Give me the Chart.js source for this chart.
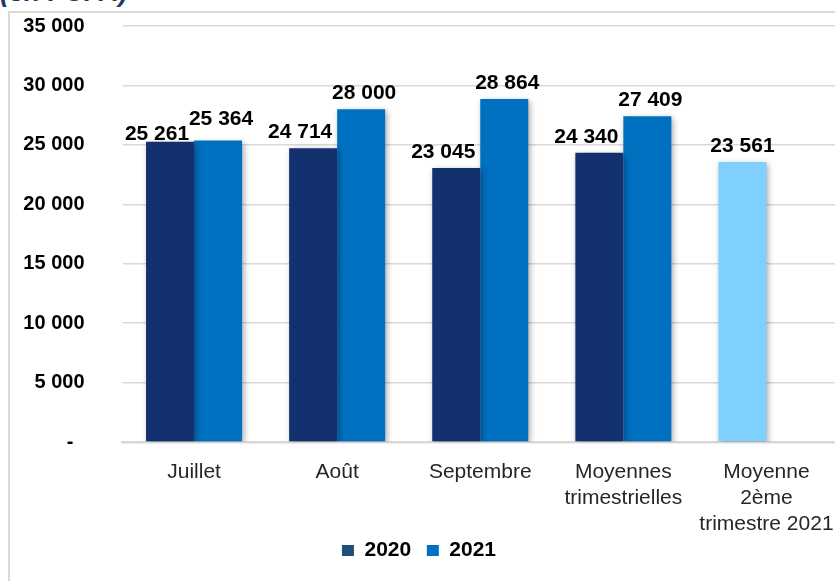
<!DOCTYPE html>
<html>
<head>
<meta charset="utf-8">
<script src="https://cdn.jsdelivr.net/npm/chart.js@4.4.1/dist/chart.umd.min.js"></script>
<style>
  html, body { margin: 0; padding: 0; background: #fff; overflow: hidden; width: 835px; height: 581px; }
  #frame { position: absolute; left: 8px; top: 11px; width: 900px; height: 700px; border: 2px solid #d9d9d9; box-sizing: border-box; }
  #title { position: absolute; left: 0; top: -21px; font: italic bold 27px "Liberation Sans", Arial, sans-serif; color: #1f3864; line-height: 27px; white-space: nowrap; }
  #chart { position: absolute; left: 0; top: 0; }
</style>
</head>
<body>
<div id="frame"></div>
<div id="title">(en FCFA)</div>
<canvas id="chart" width="845" height="581"></canvas>
<script>
// categories and values
const categories = ["Juillet", "Août", "Septembre", ["Moyennes", "trimestrielles"], ["Moyenne", "2ème", "trimestre 2021"]];
const values2020 = [25261, 24714, 23045, 24340, 23561];
const values2021 = [25364, 28000, 28864, 27409, null];
const yTicks = [0, 5000, 10000, 15000, 20000, 25000, 30000, 35000];

const dark = "#12316e";
const blue = "#0070c0";
const light = "#80d0ff";

function fmt(v) {
    return String(v).replace(/\B(?=(\d{3})+(?!\d))/g, " ");
}

// soft shadow under the bars
const shadowPlugin = {
    id: "barShadow",
    beforeDatasetsDraw(chart) {
        let ctx = chart.ctx;
        ctx.save();
        ctx.shadowColor = "rgba(0,0,0,0.35)";
        ctx.shadowBlur = 6;
        ctx.shadowOffsetX = 2;
        ctx.shadowOffsetY = 2;
    },
    afterDatasetsDraw(chart) {
        chart.ctx.restore();
    }
};

// value labels above the bars (2021 label goes up when the two would touch)
const labelPlugin = {
    id: "valueLabels",
    afterDatasetsDraw(chart) {
        let ctx = chart.ctx;
        let m0 = chart.getDatasetMeta(0);
        let m1 = chart.getDatasetMeta(1);
        ctx.save();
        ctx.font = "bold 21px 'Liberation Sans', Arial, sans-serif";
        ctx.fillStyle = "#000";
        ctx.textAlign = "center";
        ctx.textBaseline = "alphabetic";
        m0.data.forEach((bar0, i) => {
            let v0 = values2020[i], v1 = values2021[i];
            let bar1 = m1.data[i];
            let pair = v1 !== null && v1 !== undefined;
            let x0 = pair ? bar0.x - 13 : bar0.x;
            let y0 = bar0.y - 10;
            if (pair) {
                let x1 = bar1.x + 3;
                let y1 = bar1.y - 10;
                let w0 = ctx.measureText(fmt(v0)).width;
                let w1 = ctx.measureText(fmt(v1)).width;
                if (x0 + w0 / 2 + 6 > x1 - w1 / 2 && Math.abs(y0 - y1) < 16) {
                    y0 = Math.max(y0, y1) + 8;
                    y1 = y0 - 15;
                }
                ctx.fillText(fmt(v1), x1, y1);
            }
            ctx.fillText(fmt(v0), x0, y0);
        });
        ctx.restore();
    }
};

new Chart(document.getElementById("chart"), {
    type: "bar",
    data: {
        labels: categories,
        datasets: [
            {
                label: "2020",
                data: values2020,
                backgroundColor: values2020.map((v, i) => i === values2020.length - 1 ? light : dark),
                borderWidth: 0
            },
            {
                label: "2021",
                data: values2021,
                backgroundColor: blue,
                borderWidth: 0
            }
        ]
    },
    options: {
        responsive: false,
        animation: false,
        devicePixelRatio: 1,
        layout: { padding: { top: 26, left: 0, right: 7, bottom: 10 } },
        datasets: {
            bar: { categoryPercentage: 0.671, barPercentage: 1 }
        },
        plugins: {
            title: { display: false },
            tooltip: { enabled: false },
            legend: {
                display: true,
                position: "bottom",
                labels: {
                    boxWidth: 12,
                    boxHeight: 11,
                    padding: 4,
                    color: "#000",
                    font: { family: "'Liberation Sans', Arial, sans-serif", size: 21, weight: "bold" },
                    generateLabels: () => [
                        { text: "2020  ", fillStyle: "#1f4e79", strokeStyle: "#1f4e79", lineWidth: 0, datasetIndex: 0 },
                        { text: "2021", fillStyle: blue, strokeStyle: blue, lineWidth: 0, datasetIndex: 1 }
                    ]
                }
            }
        },
        scales: {
            x: {
                grid: { display: false },
                border: { display: true, color: "#d9d9d9", width: 2.5 },
                ticks: {
                    color: "#262626",
                    padding: 9,
                    maxRotation: 0,
                    autoSkip: false,
                    font: { family: "'Liberation Sans', Arial, sans-serif", size: 21, lineHeight: 1.24 }
                },
                afterFit: (scale) => { scale.height = 94; }
            },
            y: {
                min: 0,
                max: 35000,
                afterBuildTicks: (scale) => { scale.ticks = yTicks.map(v => ({ value: v })); },
                grid: { color: "#d9d9d9", lineWidth: 1.5, drawTicks: false },
                border: { display: false },
                ticks: {
                    color: "#000",
                    padding: 38,
                    font: { family: "'Liberation Sans', Arial, sans-serif", size: 20, weight: "bold" },
                    callback: (v) => v === 0 ? "-  " : fmt(v)
                },
                afterFit: (scale) => {
                    scale.width = 122.5;
                    scale.paddingTop = 12;
                    scale.paddingBottom = 12;
                }
            }
        }
    },
    plugins: [shadowPlugin, labelPlugin]
});
</script>
</body>
</html>
